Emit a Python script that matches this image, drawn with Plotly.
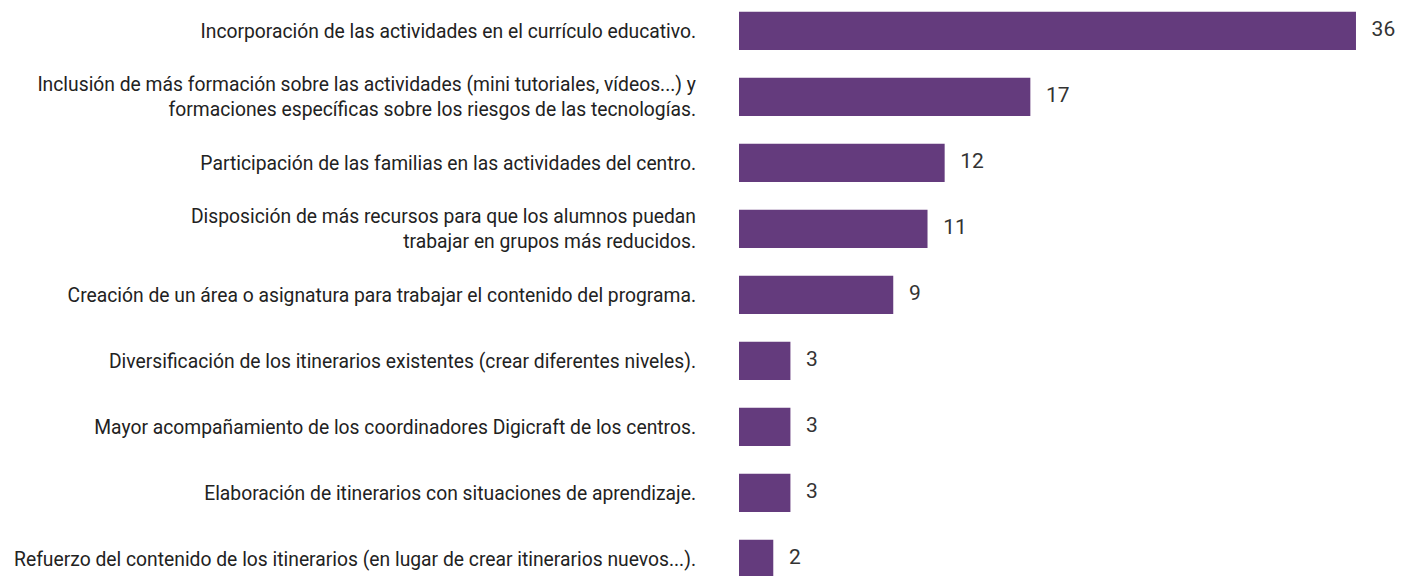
import plotly.graph_objects as go

labels = [
    "Incorporación de las actividades en el currículo educativo.",
    "Inclusión de más formación sobre las actividades (mini tutoriales, vídeos...) y<br>formaciones específicas sobre los riesgos de las tecnologías.",
    "Participación de las familias en las actividades del centro.",
    "Disposición de más recursos para que los alumnos puedan<br>trabajar en grupos más reducidos.",
    "Creación de un área o asignatura para trabajar el contenido del programa.",
    "Diversificación de los itinerarios existentes (crear diferentes niveles).",
    "Mayor acompañamiento de los coordinadores Digicraft de los centros.",
    "Elaboración de itinerarios con situaciones de aprendizaje.",
    "Refuerzo del contenido de los itinerarios (en lugar de crear itinerarios nuevos...).",
]
values = [36, 17, 12, 11, 9, 3, 3, 3, 2]

PURPLE = "#643B7D"
FONT = "Roboto, sans-serif"
pos = list(range(len(labels)))

fig = go.Figure()
fig.add_trace(go.Bar(
    x=values,
    y=pos,
    orientation="h",
    marker=dict(color=PURPLE, line=dict(width=0)),
    hoverinfo="skip",
))

# value labels to the right of each bar
fig.add_trace(go.Scatter(
    x=values,
    y=pos,
    mode="text",
    text=["   " + str(v) for v in values],
    textposition="middle right",
    textfont=dict(family=FONT, size=21, color="#333333"),
    cliponaxis=False,
    hoverinfo="skip",
))

# page body has an 8px margin, so the figure is a bit smaller than the window
fig.update_layout(
    width=1397,
    height=568,
    margin=dict(l=731, r=0, t=0, b=0, autoexpand=False),
    paper_bgcolor="white",
    plot_bgcolor="white",
    bargap=0.42,
    showlegend=False,
    font=dict(family=FONT, color="#222222"),
    xaxis=dict(range=[0, 38.86], visible=False, fixedrange=True, automargin=False),
    yaxis=dict(
        tickmode="array",
        tickvals=pos,
        ticktext=labels,
        range=[8.258, -0.348],
        showgrid=False,
        zeroline=False,
        showline=False,
        ticks="",
        ticklabelstandoff=42,
        automargin=False,
        tickfont=dict(family=FONT, size=19.3, color="#222222"),
        fixedrange=True,
    ),
)

fig.write_html("out.html")
